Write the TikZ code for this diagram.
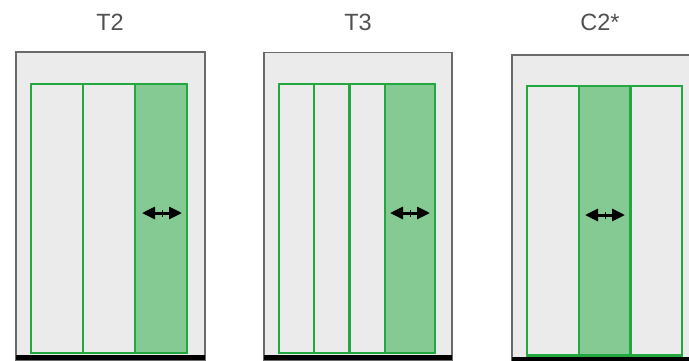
\documentclass[tikz,border=0pt]{standalone}
\usepackage{fontspec}
\setmainfont{Liberation Sans}
\usetikzlibrary{arrows.meta}

\definecolor{doorgreen}{HTML}{22A83E}
\definecolor{panelfill}{HTML}{84CA92}
\definecolor{casefill}{HTML}{EBEBEB}
\definecolor{caseline}{HTML}{6A6A6A}
\definecolor{titlegray}{HTML}{505050}

\tikzset{
  casebox/.style={fill=casefill,draw=caseline,line width=1.2pt},
  leaf/.style={draw=doorgreen,line width=2.6pt},
  openleaf/.style={leaf,fill=panelfill},
  slide/.style={line width=3pt,{Triangle[length=13pt,width=12pt]}-{Triangle[length=13pt,width=12pt]}},
  sill/.style={line width=5pt},
  doortitle/.style={text=titlegray,font=\fontsize{23.5}{24}\selectfont}
}

\begin{document}
\begin{tikzpicture}[x=1pt,y=-1pt]
\useasboundingbox (0,0) rectangle (689,360);

% T2
\node[doortitle] (tT2) at (110,22) {T2};
\draw[casebox] (16,52) rectangle (205,360);
\draw[leaf] (31,84) rectangle (83,353);
\draw[leaf] (83,84) rectangle (135,353);
\draw[openleaf] (135,84) rectangle (187,353);
\draw[sill] (16,357.5) -- (205,357.5);
\coordinate (aT2) at (142,213);
\coordinate (bT2) at (182,213);
\draw[slide] (aT2) -- (bT2);
\draw[line width=1pt] (162,209.5) -- (162,216.5);

% T3
\node[doortitle] (tT3) at (358,22) {T3};
\draw[casebox] (264,52.5) rectangle (452,360);
\draw[leaf] (279,84) rectangle (314,353);
\draw[leaf] (314,84) rectangle (349.5,353);
\draw[leaf] (349.5,84) rectangle (385,353);
\draw[openleaf] (385,84) rectangle (435,353);
\draw[sill] (264,357.5) -- (452,357.5);
\coordinate (aT3) at (390,213);
\coordinate (bT3) at (430,213);
\draw[slide] (aT3) -- (bT3);
\draw[line width=1pt] (410,209.5) -- (410,216.5);

% C2*
\node[doortitle] (tC2) at (600,22) {C2*};
\draw[casebox] (512,55) rectangle (697,362);
\draw[leaf] (527,86) rectangle (579,355.5);
\draw[openleaf] (579,86) rectangle (630.5,355.5);
\draw[leaf] (630.5,86) rectangle (682,355.5);
\draw[sill] (512,359.5) -- (697,359.5);
\coordinate (aC2) at (585,215);
\coordinate (bC2) at (625,215);
\draw[slide] (aC2) -- (bC2);
\draw[line width=1pt] (605,211.5) -- (605,218.5);
\end{tikzpicture}
\end{document}
